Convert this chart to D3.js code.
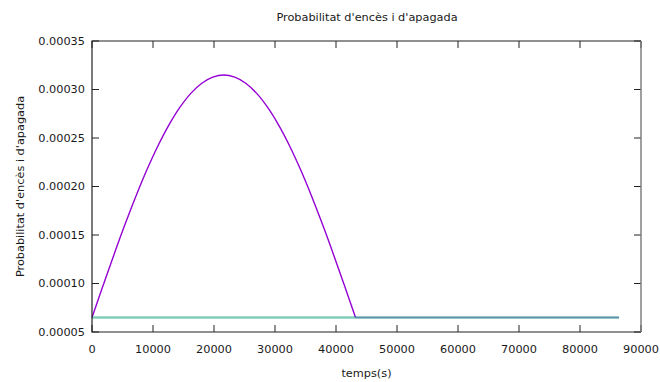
<!DOCTYPE html>
<html>
<head>
<meta charset="utf-8">
<script src="https://cdn.jsdelivr.net/npm/d3@7"></script>
<style>
  body { margin: 0; background: #fff; }
  text { font-family: "DejaVu Sans", sans-serif; fill: #1a1a1a; }
</style>
</head>
<body>
<div id="chart"></div>
<script>
// data
var archTimes = [0, 1800, 3600, 5400, 7200, 9000, 10800, 12600, 14400, 16200, 18000, 19800, 21600,
                 23400, 25200, 27000, 28800, 30600, 32400, 34200, 36000, 37800, 39600, 41400, 43200];
var archValues = [0.0000650, 0.0000976, 0.0001297, 0.0001607, 0.0001900, 0.0002172, 0.0002418, 0.0002633,
                  0.0002815, 0.0002960, 0.0003065, 0.0003128, 0.0003150, 0.0003128, 0.0003065, 0.0002960,
                  0.0002815, 0.0002633, 0.0002418, 0.0002172, 0.0001900, 0.0001607, 0.0001297, 0.0000976, 0.0000650];
var tailTimes = [43200, 86400];
var tailValues = [0.000065, 0.000065];
var flatTimes = [0, 86400];
var flatValues = [0.000065, 0.000065];

var xTicks = [0, 10000, 20000, 30000, 40000, 50000, 60000, 70000, 80000, 90000];
var yTicks = [0.00005, 0.0001, 0.00015, 0.0002, 0.00025, 0.0003, 0.00035];
var yTickLabels = ["0.00005", "0.00010", "0.00015", "0.00020", "0.00025", "0.00030", "0.00035"];

var W = 660, H = 382;
var margin = {top: 41, right: 19, bottom: 50, left: 92},
    width = W - margin.left - margin.right,
    height = H - margin.top - margin.bottom;

var svg = d3.select("#chart").append("svg")
    .attr("width", W)
    .attr("height", H);

var g = svg.append("g")
    .attr("transform", "translate(" + margin.left + "," + margin.top + ")");

var x = d3.scaleLinear().domain([0, 90000]).range([0, width]);
var y = d3.scaleLinear().domain([0.00005, 0.00035]).range([height, 0]);

// ticks, all four sides, pointing inward
var tickLen = 7;
g.selectAll(".xt-b").data(xTicks).enter().append("line")
    .attr("x1", function(d) { return x(d); }).attr("x2", function(d) { return x(d); })
    .attr("y1", height).attr("y2", height - tickLen)
    .attr("stroke", "#222");
g.selectAll(".xt-t").data(xTicks).enter().append("line")
    .attr("x1", function(d) { return x(d); }).attr("x2", function(d) { return x(d); })
    .attr("y1", 0).attr("y2", tickLen)
    .attr("stroke", "#222");
g.selectAll(".yt-l").data(yTicks).enter().append("line")
    .attr("y1", function(d) { return y(d); }).attr("y2", function(d) { return y(d); })
    .attr("x1", 0).attr("x2", tickLen)
    .attr("stroke", "#222");
g.selectAll(".yt-r").data(yTicks).enter().append("line")
    .attr("y1", function(d) { return y(d); }).attr("y2", function(d) { return y(d); })
    .attr("x1", width).attr("x2", width - tickLen)
    .attr("stroke", "#222");

// tick labels
g.selectAll(".xl").data(xTicks).enter().append("text")
    .attr("x", function(d) { return x(d); })
    .attr("y", height + 21)
    .attr("text-anchor", "middle")
    .style("font-size", "11.3px")
    .text(function(d) { return d; });
g.selectAll(".yl").data(yTicks).enter().append("text")
    .attr("x", -7)
    .attr("y", function(d) { return y(d); })
    .attr("dy", "0.35em")
    .attr("text-anchor", "end")
    .style("font-size", "11.3px")
    .text(function(d, i) { return yTickLabels[i]; });

// series
var line = d3.line()
    .x(function(d) { return x(d[0]); })
    .y(function(d) { return y(d[1]); });

g.append("path")
    .attr("fill", "none")
    .attr("stroke", "#9400d3")
    .attr("stroke-width", 1.4)
    .attr("d", line.curve(d3.curveCatmullRom)(d3.zip(archTimes, archValues)));

// purple tail sits under the green line
g.append("path")
    .attr("fill", "none")
    .attr("stroke", "#9400d3")
    .attr("stroke-opacity", 0.5)
    .attr("stroke-width", 1.6)
    .attr("d", line.curve(d3.curveLinear)(d3.zip(tailTimes, tailValues)));

g.append("path")
    .attr("fill", "none")
    .attr("stroke", "#009e73")
    .attr("stroke-opacity", 0.5)
    .attr("stroke-width", 2.4)
    .attr("d", line(d3.zip(flatTimes, flatValues)));

// border
g.append("path")
    .attr("fill", "none")
    .attr("stroke", "#222")
    .attr("stroke-width", 1.2)
    .attr("d", "M" + width + ",0H0V" + height + "H" + width);
g.append("line")
    .attr("x1", width).attr("x2", width).attr("y1", 0).attr("y2", height)
    .attr("stroke", "#777").attr("stroke-width", 1.4);

// titles
svg.append("text")
    .attr("x", 367)
    .attr("y", 21)
    .attr("text-anchor", "middle")
    .style("font-size", "11.3px")
    .text("Probabilitat d'encès i d'apagada");

svg.append("text")
    .attr("x", margin.left + width / 2)
    .attr("y", 377)
    .attr("text-anchor", "middle")
    .style("font-size", "11.3px")
    .text("temps(s)");

svg.append("text")
    .attr("transform", "translate(24," + (margin.top + height / 2) + ") rotate(-90)")
    .attr("text-anchor", "middle")
    .style("font-size", "11.3px")
    .text("Probabilitat d'encès i d'apagada");
</script>
</body>
</html>
